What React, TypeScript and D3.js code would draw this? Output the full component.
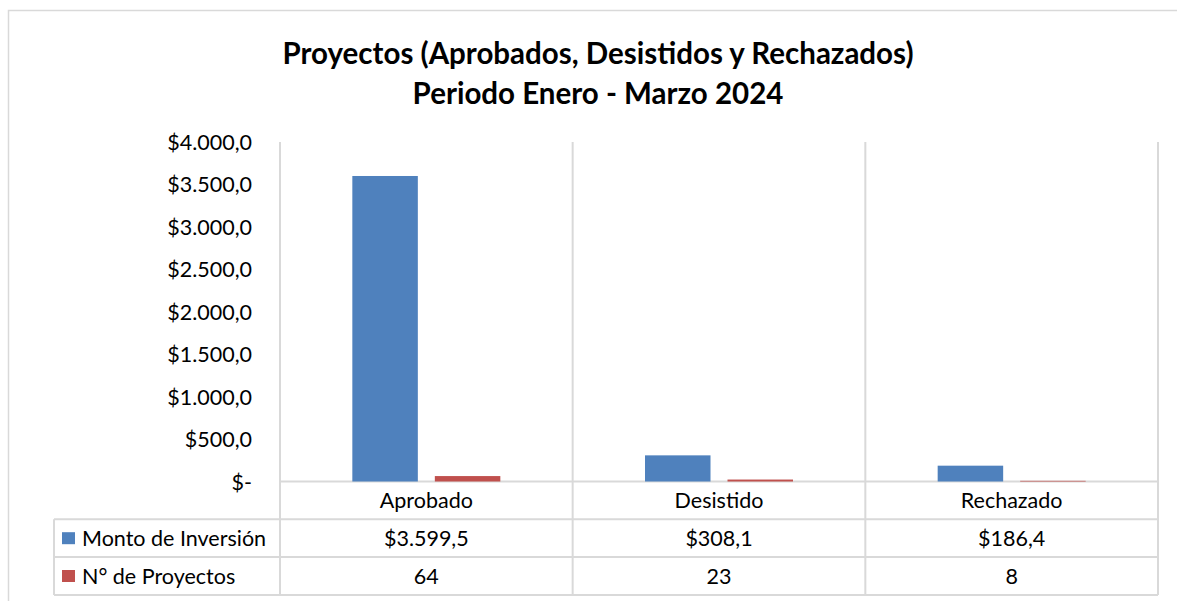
import React from "react";
import * as d3 from "d3";

const categories = ["Aprobado", "Desistido", "Rechazado"];
const seriesNames = ["Monto de Inversión", "N° de Proyectos"];
const montoInversion = [3599.5, 308.1, 186.4];
const numProyectos = [64, 23, 8];
const montoLabels = ["$3.599,5", "$308,1", "$186,4"];
const proyectosLabels = ["64", "23", "8"];
const yTicks = [0, 500, 1000, 1500, 2000, 2500, 3000, 3500, 4000];
const titleLines = ["Proyectos (Aprobados, Desistidos y Rechazados)", "Periodo Enero - Marzo 2024"];

const colors = ["#4F81BD", "#C0504D"];
const FONT = "Lato, 'Open Sans', sans-serif";
const GRID = "#D9D9D9";
const FS = 21.5;

function fmtTick(v: number): string {
  if (v === 0) return "$-";
  const s = d3.format(",.1f")(v);
  return "$" + s.replace(/,/g, "#").replace(".", ",").replace(/#/g, ".");
}

export default function App() {
  const W = 1177, H = 601;
  const plotL = 280, plotR = 1158, plotT = 142, plotB = 481.5;
  const legL = 54;
  const rowH = 37.8;
  const rows = [plotB, plotB + rowH, plotB + 2 * rowH, plotB + 3 * rowH];

  const x = d3.scaleBand<string>().domain(categories).range([plotL, plotR]).paddingInner(0).paddingOuter(0);
  const y = d3.scaleLinear().domain([0, 4000]).range([plotB, plotT]);
  const barW = 65.5;
  const gap = 17;
  const series = [montoInversion, numProyectos];

  return (
    <svg width={W} height={H} style={{ position: "absolute", left: 0, top: 0, background: "#fff" }} fontFamily={FONT}>
      <rect x={0} y={0} width={W} height={H} fill="#fff" />
      <rect x={8.5} y={10.5} width={1300} height={700} fill="none" stroke={GRID} strokeWidth={1.5} />
      {titleLines.map((t, i) => (
        <text key={i} x={598} y={52 + i * 40} textAnchor="middle" dominantBaseline="central" fontSize={29.5} fontWeight={700} fill="#000">
          {t}
        </text>
      ))}
      {[...categories.map((c) => x(c) as number), plotR].map((gx, i) => (
        <line key={i} x1={gx} x2={gx} y1={plotT} y2={rows[3]} stroke={GRID} strokeWidth={2} />
      ))}
      <line x1={plotL} x2={plotR} y1={rows[0]} y2={rows[0]} stroke={GRID} strokeWidth={2} />
      {[1, 2, 3].map((r) => (
        <line key={r} x1={legL} x2={plotR} y1={rows[r]} y2={rows[r]} stroke={GRID} strokeWidth={2} />
      ))}
      <line x1={legL} x2={legL} y1={rows[1]} y2={rows[3]} stroke={GRID} strokeWidth={2} />
      {yTicks.map((t) => (
        <text key={t} x={252} y={y(t)} textAnchor="end" dominantBaseline="central" fontSize={FS} fill="#000">
          {fmtTick(t)}
        </text>
      ))}
      {categories.map((c, ci) => {
        const cx = (x(c) as number) + x.bandwidth() / 2;
        return series.map((s, si) => {
          const bx = si === 0 ? cx - gap / 2 - barW : cx + gap / 2;
          return (
            <rect key={c + si} x={bx} y={y(s[ci])} width={barW} height={plotB - y(s[ci])} fill={colors[si]} />
          );
        });
      })}
      {categories.map((c) => (
        <text key={c} x={(x(c) as number) + x.bandwidth() / 2} y={(rows[0] + rows[1]) / 2} textAnchor="middle" dominantBaseline="central" fontSize={FS} fill="#000">
          {c}
        </text>
      ))}
      {[montoLabels, proyectosLabels].map((labels, ri) => {
        const cy = (rows[ri + 1] + rows[ri + 2]) / 2;
        return (
          <g key={ri}>
            <rect x={62} y={cy - 6} width={13} height={12} fill={colors[ri]} />
            <text x={82} y={cy} dominantBaseline="central" fontSize={FS} fill="#000">
              {seriesNames[ri]}
            </text>
            {labels.map((l, ci) => (
              <text key={ci} x={(x(categories[ci]) as number) + x.bandwidth() / 2} y={cy} textAnchor="middle" dominantBaseline="central" fontSize={FS} fill="#000">
                {l}
              </text>
            ))}
          </g>
        );
      })}
    </svg>
  );
}
